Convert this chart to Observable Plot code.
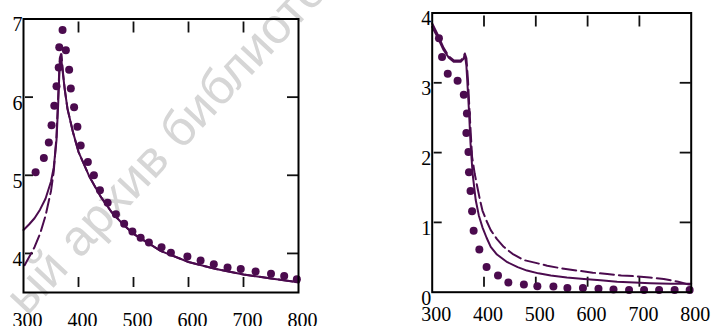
<!DOCTYPE html>
<html>
<head>
<meta charset="utf-8">
<script src="https://cdn.jsdelivr.net/npm/d3@7"></script>
<script src="https://cdn.jsdelivr.net/npm/@observablehq/plot@0.6"></script>
<style>
  html, body { margin: 0; padding: 0; background: #fff; }
  #wrap { position: relative; width: 711px; height: 326px; overflow: hidden; background: #fff; }
  #wm { position: absolute; left: -4px; top: 288px; transform-origin: 0 0; transform: rotate(-47deg);
        font-family: "Liberation Sans", Arial, sans-serif; font-size: 50px; line-height: 1; color: #d6d6d6; white-space: nowrap; }
  .panel { position: absolute; top: 0; }
  #left { left: 0; }
  #right { left: 400px; }
</style>
</head>
<body>
<div id="wrap">
  <div id="wm">ый архив библиотеки</div>
  <div class="panel" id="left"></div>
  <div class="panel" id="right"></div>
</div>
<script>
// ---- Left panel data ----
const leftPtsX = [322,337,346,351,356,360,364,365,371,377,383,386,392,398,404,417,428,439,453,468,483,498,513,528,551,568,598,622,646,671,695,722,750,774,797];
const leftPtsY = [5.04,5.22,5.42,5.64,5.89,6.14,6.38,6.64,6.86,6.60,6.35,6.11,5.87,5.62,5.38,5.17,5.00,4.81,4.65,4.50,4.38,4.28,4.20,4.14,4.08,4.01,3.96,3.91,3.86,3.82,3.80,3.77,3.74,3.71,3.67];
const leftSolidX = [300,310,320,330,340,350,355,360,363,366,368,370,375,380,390,400,420,440,460,480,500,550,600,650,700,750,800];
const leftSolidY = [4.30,4.37,4.45,4.56,4.70,4.92,5.10,5.45,5.90,6.45,6.55,6.40,6.10,5.85,5.55,5.30,4.98,4.73,4.53,4.38,4.25,4.03,3.89,3.80,3.73,3.68,3.63];
const leftDashX = [302,310,320,330,340,350,355,360,363,366,369,372,375,380,390,400,420,440,460,480,500,550,600,650,700,750,800];
const leftDashY = [3.85,3.95,4.08,4.25,4.48,4.80,5.05,5.50,6.00,6.50,6.55,6.30,6.10,5.85,5.55,5.30,4.98,4.73,4.53,4.38,4.25,4.03,3.89,3.80,3.73,3.68,3.63];
const leftXTicks = [300,400,500,600,700,800];
const leftYTicks = [7,6,5,4];

// ---- Right panel data ----
const rightPtsX = [313,319,330,349,361,367,366,370,371,374,377,380,391,405,427,447,477,503,534,561,591,621,650,680,709,738,768,797];
const rightPtsY = [3.64,3.37,3.13,3.03,2.83,2.56,2.28,2.01,1.72,1.45,1.16,0.88,0.61,0.36,0.24,0.14,0.11,0.086,0.08,0.06,0.06,0.05,0.04,0.03,0.03,0.03,0.03,0.03];
const rightSolidX = [300,310,322,332,342,355,360,363,366,368,371,374,378,384,390,397,405,413,425,445,465,483,505,529,560,593,625,657,690,721,760,800];
const rightSolidY = [3.80,3.66,3.47,3.36,3.30,3.30,3.34,3.40,3.25,2.99,2.60,2.13,1.70,1.32,1.10,0.93,0.78,0.65,0.54,0.43,0.36,0.31,0.27,0.24,0.21,0.19,0.17,0.15,0.14,0.13,0.12,0.12];
const rightDashX = [300,310,322,332,342,355,360,363,366,369,372,375,377,382,387,392,397,405,413,425,438,455,477,500,522,550,580,610,638,665,689,720,747,775,800];
const rightDashY = [3.85,3.70,3.50,3.38,3.32,3.32,3.36,3.42,3.35,3.05,2.60,2.20,1.94,1.70,1.51,1.33,1.17,1.02,0.89,0.76,0.65,0.55,0.46,0.42,0.38,0.34,0.31,0.28,0.26,0.24,0.23,0.21,0.19,0.15,0.10];
const rightXTicks = [300,400,500,600,700,800];
const rightYTicks = [4,3,2,1,0];

const COLOR = "#4b0b4e";
const FONT = "Liberation Serif, Times New Roman, serif";

function zip(xs, ys) { return xs.map((x, i) => ({x, y: ys[i]})); }

function panel(o) {
  const H = 326;
  const fh = H - o.mt - o.mb;
  const fw = o.width - o.ml - o.mr;
  const inner = o.xTicks.slice(1, -1);
  const innerY = o.yTicks.filter(v => v > o.yDomain[0] && v < o.yDomain[1]);
  const tickStyle = {stroke: "#111", strokeWidth: 1.8};
  return Plot.plot({
    width: o.width, height: H,
    marginLeft: o.ml, marginRight: o.mr, marginTop: o.mt, marginBottom: o.mb,
    style: {background: "transparent", fontFamily: FONT},
    x: {domain: [300, 800], axis: null},
    y: {domain: o.yDomain, axis: null},
    marks: [
      // inward tick marks (Mathcad style, slightly detached from frame)
      Plot.tickX(inner, {x: d => d, insetTop: 3, insetBottom: fh - 14, ...tickStyle}),
      Plot.tickX(inner, {x: d => d, insetTop: fh - 15, insetBottom: 5, ...tickStyle}),
      Plot.tickY(innerY, {y: d => d, insetLeft: 2, insetRight: fw - 10, ...tickStyle}),
      Plot.tickY(innerY, {y: d => d, insetLeft: fw - 11, insetRight: 0, ...tickStyle}),
      // tick labels
      Plot.axisX(o.xTicks, {anchor: "bottom", label: null, tickSize: 0, tickPadding: o.xPad, dx: 4,
        tickFormat: d => String(d), fontSize: 20, fill: "#000", fontFamily: FONT}),
      Plot.axisY(o.yTicks, {anchor: "left", label: null, tickSize: 0, tickPadding: 1, dy: 6,
        tickFormat: d => String(d), fontSize: 20, fill: "#000", fontFamily: FONT}),
      // data
      Plot.line(zip(o.dashX, o.dashY), {x: "x", y: "y", stroke: COLOR, strokeWidth: 2, strokeDasharray: "14,5"}),
      Plot.line(zip(o.solidX, o.solidY), {x: "x", y: "y", stroke: COLOR, strokeWidth: 2}),
      Plot.dot(zip(o.ptsX, o.ptsY), {x: "x", y: "y", r: 4, fill: COLOR, stroke: "none"}),
      Plot.frame({stroke: "#000", strokeWidth: 2})
    ]
  });
}

document.getElementById("left").appendChild(panel({
  width: 320, ml: 23, mr: 22, mt: 18.5, mb: 34, xPad: 20,
  yDomain: [3.5, 7], xTicks: leftXTicks, yTicks: leftYTicks,
  ptsX: leftPtsX, ptsY: leftPtsY, solidX: leftSolidX, solidY: leftSolidY, dashX: leftDashX, dashY: leftDashY
}));

document.getElementById("right").appendChild(panel({
  width: 311, ml: 31.7, mr: 20.3, mt: 12.5, mb: 34.3, xPad: 15,
  yDomain: [0, 4], xTicks: rightXTicks, yTicks: rightYTicks,
  ptsX: rightPtsX, ptsY: rightPtsY, solidX: rightSolidX, solidY: rightSolidY, dashX: rightDashX, dashY: rightDashY
}));
</script>
</body>
</html>
